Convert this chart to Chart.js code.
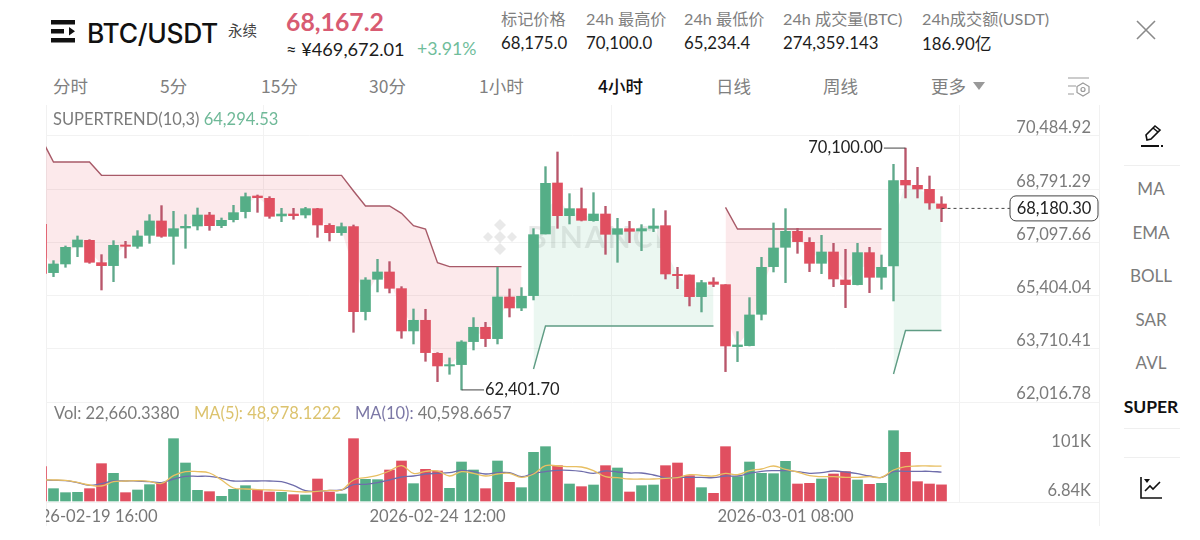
<!DOCTYPE html>
<html lang="zh">
<head>
<meta charset="utf-8">
<title>BTC/USDT</title>
<script src="https://cdn.jsdelivr.net/npm/chart.js@4/dist/chart.umd.js"></script>
<style>
html,body{margin:0;padding:0;background:#fff;}
body{width:1200px;height:540px;position:relative;overflow:hidden;font-family:Lato,"Noto Sans CJK SC",sans-serif;color:#7b7b7b;}
.t{position:absolute;white-space:nowrap;line-height:1;}
.cn{font-family:"Noto Sans CJK SC",sans-serif;}
.stat{font-size:16.2px;color:#7f7f7f;}
.val{font-size:16.8px;color:#1c1c1c;}
.tab{font-size:17.5px;color:#808080;top:77px;font-family:"Noto Sans CJK SC",sans-serif;}
.side{font-size:17px;color:#7b7b7b;left:1121px;width:60px;text-align:center;}
.sep{position:absolute;left:1124px;width:56px;height:1px;background:#efefef;}
.leg{font-size:16.5px;color:#7b7b7b;}
#wrap{position:absolute;left:46px;top:105px;width:1053px;height:421px;}
#edgeL,#edgeR{position:absolute;top:105px;height:421px;width:1px;background:#f1f1f1;}
#edgeL{left:46px;} #edgeR{left:1099px;}
</style>
</head>
<body>
<svg class="t" style="left:51px;top:19px" width="25" height="25" viewBox="0 0 25 25">
  <rect x="0" y="1" width="24" height="4.5" fill="#111"/><rect x="0" y="10" width="13" height="4.5" fill="#111"/>
  <rect x="0" y="19" width="24" height="4.5" fill="#111"/><path d="M18 8 L24 12.2 L18 16.5 Z" fill="#111"/>
</svg>
<div class="t" style="left:87px;top:17px;font:500 26.4px Inter,sans-serif;color:#111;letter-spacing:-.3px">BTC/USDT</div>
<div class="t cn" style="left:228px;top:23px;font-size:14.5px;color:#444">永续</div>
<div class="t" style="left:286px;top:7px;font:700 24.8px Lato,sans-serif;color:#d85b72">68,167.2</div>
<div class="t" style="left:286px;top:40px;font-size:18.2px;color:#1c1c1c">≈ ¥469,672.01</div>
<div class="t" style="left:417px;top:40px;font-size:17.7px;color:#70bd9b">+3.91%</div>

<div class="t stat cn" style="left:501px;top:10px">标记价格</div><div class="t val" style="left:501px;top:35px">68,175.0</div>
<div class="t stat" style="left:586px;top:10px">24h <span class="cn">最高价</span></div><div class="t val" style="left:586px;top:35px">70,100.0</div>
<div class="t stat" style="left:684px;top:10px">24h <span class="cn">最低价</span></div><div class="t val" style="left:684px;top:35px">65,234.4</div>
<div class="t stat" style="left:783px;top:10px">24h <span class="cn">成交量</span>(BTC)</div><div class="t val" style="left:783px;top:35px">274,359.143</div>
<div class="t stat" style="left:922px;top:10px">24h<span class="cn">成交额</span>(USDT)</div><div class="t val" style="left:922px;top:35px">186.90<span class="cn">亿</span></div>

<svg class="t" style="left:1135px;top:20px" width="22" height="20" viewBox="0 0 22 20"><path d="M2 1 L20 19 M20 1 L2 19" stroke="#8a8a8a" stroke-width="1.6" fill="none"/></svg>

<div class="t tab" style="left:53px">分时</div>
<div class="t tab" style="left:160px">5分</div>
<div class="t tab" style="left:261px">15分</div>
<div class="t tab" style="left:369px">30分</div>
<div class="t tab" style="left:479px">1小时</div>
<div class="t tab" style="left:598px;color:#111;font-weight:500">4小时</div>
<div class="t tab" style="left:716px">日线</div>
<div class="t tab" style="left:823px">周线</div>
<div class="t tab" style="left:931px">更多</div>
<svg class="t" style="left:973px;top:82px" width="12" height="8"><path d="M0 0 H12 L6 8 Z" fill="#999"/></svg>
<svg class="t" style="left:1067px;top:76px" width="24" height="22" viewBox="0 0 24 22" fill="none" stroke="#9a9a9a" stroke-width="1.2">
  <path d="M1 2 H22 M1 10 H9 M1 18 H7"/><path d="M16 7 L22 10.5 V16.5 L16 20 L10 16.5 V10.5 Z"/><circle cx="16" cy="13.5" r="2"/>
</svg>

<div id="edgeL"></div><div id="edgeR"></div>
<div id="wrap"><canvas id="myChart" width="1053" height="421" style="display:block"></canvas></div>

<div class="t leg" style="left:53px;top:111px">SUPERTREND(10,3) <span style="color:#6fb998">64,294.53</span></div>
<div class="t leg" style="left:54px;top:405px">Vol: 22,660.3380</div>
<div class="t leg" style="left:194px;top:405px;color:#dcc36e">MA(5): 48,978.1222</div>
<div class="t leg" style="left:355px;top:405px;color:#7c78a6">MA(10): <span style="color:#7b7b7b">40,598.6657</span></div>

<svg class="t" style="left:1139px;top:123px" width="26" height="26" viewBox="0 0 26 26" fill="none" stroke="#111" stroke-width="1.6">
  <path d="M8 17 L7 12 L16 3 L21 7 L12 16 Z"/><path d="M14 5 L19 9"/><path d="M2 23 H20 M22 23 H24" stroke-width="2"/>
</svg>
<div class="sep" style="top:165px"></div>
<div class="t side" style="top:180px">MA</div>
<div class="t side" style="top:224px">EMA</div>
<div class="t side" style="top:267px">BOLL</div>
<div class="t side" style="top:311px">SAR</div>
<div class="t side" style="top:354px">AVL</div>
<div class="t side" style="top:398px;color:#111;font-weight:700;font-size:17.5px">SUPER</div>
<div class="sep" style="top:428px"></div>
<div class="sep" style="top:457px"></div>
<svg class="t" style="left:1139px;top:476px" width="24" height="24" viewBox="0 0 24 24" fill="none" stroke="#111" stroke-width="1.6">
  <path d="M2 1 V22 H23"/><path d="M6 15 L11 10 L14 13 L21 6"/><path d="M5 3 H11 L8 7 Z" fill="#111" stroke="none"/>
</svg>

<script>
// price data, index 0 is the candle cut off at the left edge
var opens = [67673,
  66135, 66411, 66952, 67164, 66453, 66358, 67016, 66973, 67323, 67780,
  67291, 67557, 67620, 67970, 67631, 67822, 68077, 68575, 68501, 67939,
  68002, 67970, 68172, 67642, 67408, 67599, 64894, 65923, 66156, 65626,
  64278, 64618, 63567, 63164, 63207, 63939, 64395, 64034, 65360, 65010,
  65403, 67366, 68989, 67949, 68172, 67790, 68002, 67355, 67535, 67461,
  67546, 67631, 66082, 66061, 65371, 65838, 65753, 63780, 63811, 64809,
  66326, 66941, 67450, 67100, 66432, 66793, 65902, 65753, 66772, 65986,
  66347, 69074, 68915, 68787, 68321];
var highs = [67673,
  66517, 66984, 67302, 67185, 66708, 67153, 67132, 67472, 67981, 68268,
  68087, 67981, 68193, 68055, 67875, 68278, 68671, 68607, 68554, 68183,
  68183, 68214, 68183, 67695, 67716, 67652, 65976, 66559, 66485, 65689,
  64978, 64968, 63589, 63419, 63970, 64703, 64554, 66305, 65615, 65658,
  67535, 69509, 69976, 68649, 68830, 68681, 68246, 67864, 67769, 67663,
  68172, 68108, 66305, 66061, 65891, 65976, 65753, 64257, 65339, 66623,
  67716, 68172, 67546, 67249, 67323, 67069, 66878, 67069, 66941, 66697,
  69583, 70100, 69488, 69212, 68554];
var lows = [66114,
  66008, 66305, 66644, 66432, 65583, 65848, 66602, 66909, 67069, 67260,
  66400, 66909, 67493, 67482, 67567, 67748, 67875, 68055, 67864, 67758,
  67833, 67875, 67260, 67143, 67323, 64236, 64628, 65520, 65488, 64045,
  63864, 63313, 62665, 62899, 62401.7, 63673, 63780, 63864, 64724, 64925,
  65265, 67366, 67546, 67684, 67780, 67769, 66718, 66464, 67090, 66835,
  67440, 65933, 65626, 65074, 64883, 65689, 62984, 63302, 63801, 64628,
  66156, 65817, 66750, 66167, 66103, 65689, 65021, 65742, 65498, 65605,
  65233, 68512, 68512, 68151, 67758];
var closes = [66114,
  66411, 66941, 67175, 66464, 66358, 67005, 66973, 67302, 67780, 67291,
  67535, 67610, 67970, 67631, 67801, 68045, 68554, 68522, 67928, 68002,
  67949, 68172, 67652, 67408, 67599, 64894, 65902, 66156, 65636, 64278,
  64618, 63589, 63164, 63207, 63928, 64395, 64034, 65360, 65010, 65382,
  67344, 68978, 67949, 68172, 67801, 68002, 67355, 67535, 67450, 67535,
  67620, 66092, 66039, 65371, 65817, 65764, 63801, 63833, 64788, 66305,
  66920, 67450, 67122, 66432, 66793, 65933, 65753, 66772, 65986, 66305,
  69063, 68925, 68798, 68352, 68180.3];

// supertrend, red band above and green band below, gaps where the other one runs
var superRed = [70390, 69657, 69657, 69657, 69657,
  69233, 69233, 69233, 69233, 69233, 69233, 69233, 69233, 69233, 69233,
  69233, 69233, 69233, 69233, 69233, 69233, 69233, 69233, 69233, 69233, 69233,
  68734, 68257, 68257, 68257, 68024, 67631, 67525, 66453,
  66326, 66326, 66326, 66326, 66326, 66326, 66326,
  null, null, null, null, null, null, null, null, null, null, null, null, null, null, null, null,
  68214, 67525, 67525, 67525, 67525, 67525, 67525, 67525, 67525, 67525, 67525, 67525, 67525, 67525,
  null, null, null, null, null];
var superGreen = [null, null, null, null, null, null, null, null, null, null,
  null, null, null, null, null, null, null, null, null, null,
  null, null, null, null, null, null, null, null, null, null,
  null, null, null, null, null, null, null, null, null, null, null,
  63069, 64437, 64437, 64437, 64437, 64437, 64437, 64437, 64437, 64437, 64437, 64437, 64437, 64437, 64437, 64437,
  null, null, null, null, null, null, null, null, null, null, null, null, null, null,
  62909, 64294.53, 64294.53, 64294.53, 64294.53];

var volumes = [48200,
  17316, 11700, 12168, 17316, 52416, 38844, 11700, 15444, 22932, 26208,
  87516, 53352, 14976, 13104, 6552, 16380, 21528, 14976, 12636, 12168,
  8892, 8424, 30888, 12636, 9828, 87516, 30420, 29952, 43524, 56160,
  24336, 44460, 42120, 17784, 54756, 43524, 17316, 56160, 26208, 18720,
  68328, 76284, 49608, 23868, 20124, 22464, 49608, 46332, 12636, 21528,
  22464, 49608, 53352, 35568, 18720, 10764, 76284, 34164, 54756, 38844,
  38376, 55692, 23868, 24804, 30888, 37908, 41184, 29484, 23400, 24804,
  98748, 68328, 27144, 23868, 22660.338];
var ma5 = [29484,
  29484, 29016, 26208, 22464, 21060, 27144, 28080, 28548, 27612, 24804,
  35568, 41184, 41184, 39312, 29484, 18252, 16848, 15912, 15444, 14976,
  13572, 12636, 13572, 14976, 15444, 29484, 32760, 36036, 42120, 49608,
  38844, 41652, 42120, 35100, 41184, 38844, 35100, 37908, 38844, 33228,
  37908, 49608, 49140, 48204, 47736, 42588, 34164, 32760, 30888, 30888,
  30888, 31824, 32760, 36972, 36036, 35100, 38844, 36972, 42588, 44928,
  49140, 44460, 40716, 35568, 34164, 34164, 33228, 33228, 34164, 33228,
  43524, 48204, 49140, 49140, 48978.1222];
var ma10 = [29484,
  29016, 28548, 25740, 21996, 24336, 28080, 28080, 28080, 27144, 25740,
  30888, 34632, 34632, 34632, 31824, 28080, 28080, 28080, 28080, 27144,
  21996, 14508, 13572, 14976, 15444, 22932, 23400, 25740, 29484, 33696,
  35100, 37908, 38844, 39780, 43056, 41184, 37908, 39780, 39780, 34164,
  38844, 41184, 43056, 43056, 41652, 38844, 42120, 40716, 39312, 39312,
  36504, 32760, 33228, 33228, 33228, 32760, 35100, 35100, 38844, 41652,
  42588, 42588, 41184, 38844, 39780, 42120, 40716, 38376, 35100, 33228,
  41184, 41652, 41652, 41652, 40598.6657];

var priceTicks = [70484.92, 68791.29, 67097.66, 65404.04, 63710.41, 62016.78];
var timeTicks = [4, 33, 62];
var timeLabels = ['2026-02-19 16:00', '2026-02-24 12:00', '2026-03-01 08:00'];
var highIndex = 72, lowIndex = 35, lastIndex = 75;
var highPrice = 70100, lowPrice = 62401.7, lastPrice = 68180.3;

var GREEN = '#55ae87', RED = '#e04f60';
var GREEN_WICK = '#5fa98b', RED_WICK = '#b9566b';

function pts(values) {
  return values.map(function (v, i) { return {x: i, y: v}; });
}
function candleColor(i, up, down) {
  return closes[i] >= opens[i] ? up : down;
}
function money(v) {
  return v.toLocaleString('en-US', {minimumFractionDigits: 2, maximumFractionDigits: 2});
}
// labels sit inside the plot, the axes take no room
function flatAxis(s) {
  s.width = 0;
  s.paddingTop = 0;
  s.paddingBottom = 0;
}

var wicks = lows.map(function (l, i) { return {x: i, y: [l, highs[i]]}; });
var bodies = opens.map(function (o, i) { return {x: i, y: [o, closes[i]]}; });
var bodyMid = opens.map(function (o, i) { return (o + closes[i]) / 2; }); // the band fills reach to the body middle

// watermark under the candles, labels for high/low/last on top
var overlay = {
  id: 'overlay',
  beforeDatasetsDraw: function (chart) {
    var c = chart.ctx, cx = 454, cy = 132;
    c.save();
    c.fillStyle = 'rgba(125,125,125,0.17)';
    [[0, 0, 6], [0, -12, 6], [0, 12, 6], [-12, 0, 5], [12, 0, 5]].forEach(function (d) {
      c.beginPath();
      c.moveTo(cx + d[0], cy + d[1] - d[2]);
      c.lineTo(cx + d[0] + d[2], cy + d[1]);
      c.lineTo(cx + d[0], cy + d[1] + d[2]);
      c.lineTo(cx + d[0] - d[2], cy + d[1]);
      c.closePath();
      c.fill();
    });
    c.font = '700 30px Lato, sans-serif';
    c.letterSpacing = '2px';
    c.textBaseline = 'middle';
    c.fillText('BINANCE', 481, cy + 1);
    c.restore();
  },
  afterDatasetsDraw: function (chart) {
    var c = chart.ctx, xs = chart.scales.x, ys = chart.scales.y;
    c.save();
    c.font = '16.5px Lato, sans-serif';
    c.fillStyle = '#222';
    c.textBaseline = 'middle';
    c.textAlign = 'right';
    c.fillText(money(highPrice), xs.getPixelForValue(70.2) - 1, ys.getPixelForValue(highPrice));
    c.textAlign = 'left';
    c.fillText(money(lowPrice), xs.getPixelForValue(36.875) + 1, ys.getPixelForValue(lowPrice));
    // box around the last price
    var y = ys.getPixelForValue(lastPrice);
    c.beginPath();
    c.roundRect(964, y - 12.5, 88, 25, 6);
    c.fillStyle = '#fff';
    c.fill();
    c.strokeStyle = '#444';
    c.lineWidth = 1;
    c.stroke();
    c.fillStyle = '#222';
    c.textAlign = 'center';
    c.fillText(money(lastPrice), 1008, y + 0.5);
    c.restore();
  }
};

var ctx = document.getElementById('myChart').getContext('2d');
var myChart = new Chart(ctx, {
  type: 'bar',
  data: {
    datasets: [
      {type: 'line', data: pts(bodyMid), borderWidth: 0, pointRadius: 0, fill: false, order: 9},
      {type: 'line', data: pts(superRed), borderColor: '#a85a68', borderWidth: 1.4, pointRadius: 0, order: 7,
        fill: {target: 0, above: 'rgba(230,70,90,0.12)', below: 'rgba(230,70,90,0.12)'}},
      {type: 'line', data: pts(superGreen), borderColor: '#5f9c84', borderWidth: 1.4, pointRadius: 0, order: 7,
        fill: {target: 0, above: 'rgba(60,175,120,0.10)', below: 'rgba(60,175,120,0.10)'}},
      {data: wicks, grouped: false, barThickness: 1.7, order: 5,
        backgroundColor: wicks.map(function (d, i) { return candleColor(i, GREEN_WICK, RED_WICK); })},
      {data: bodies, grouped: false, barThickness: 10, order: 4,
        backgroundColor: bodies.map(function (d, i) { return candleColor(i, GREEN, RED); })},
      {data: pts(volumes), yAxisID: 'yVol', grouped: false, barThickness: 10, order: 6,
        backgroundColor: volumes.map(function (d, i) { return candleColor(i, GREEN, RED); })},
      {type: 'line', data: pts(ma10), yAxisID: 'yVol', borderColor: '#6f6dab', borderWidth: 1.3, pointRadius: 0, tension: 0.4, order: 2},
      {type: 'line', data: pts(ma5), yAxisID: 'yVol', borderColor: '#e8bf62', borderWidth: 1.3, pointRadius: 0, tension: 0.4, order: 1},
      {type: 'line', data: [{x: highIndex, y: highPrice}, {x: 70.2, y: highPrice}], borderColor: '#444', borderWidth: 1, pointRadius: 0, order: 1},
      {type: 'line', data: [{x: lowIndex, y: lowPrice}, {x: 36.875, y: lowPrice}], borderColor: '#444', borderWidth: 1, pointRadius: 0, order: 1},
      {type: 'line', data: [{x: lastIndex, y: lastPrice}, {x: 80.7, y: lastPrice}], borderColor: '#444', borderWidth: 1, borderDash: [3, 3], pointRadius: 0, order: 1}
    ]
  },
  options: {
    responsive: false,
    animation: false,
    layout: {padding: 0},
    plugins: {legend: {display: false}, tooltip: {enabled: false}},
    scales: {
      x: {
        type: 'linear',
        offset: false,
        min: 0.375,
        max: 88.125,
        afterBuildTicks: function (s) { s.ticks = timeTicks.map(function (v) { return {value: v}; }); },
        afterFit: function (s) { s.height = 24; s.paddingLeft = 0; s.paddingRight = 0; },
        grid: {color: '#f2f2f2', drawTicks: false},
        border: {display: true, color: '#f2f2f2'},
        ticks: {
          autoSkip: false, maxRotation: 0, padding: 5, color: '#777', font: {family: 'Lato', size: 16.6},
          callback: function (v) { return timeLabels[timeTicks.indexOf(v)]; }
        }
      },
      y: {
        type: 'linear',
        position: 'right',
        min: 58833.3,
        max: 71471.8,
        afterBuildTicks: function (s) { s.ticks = priceTicks.map(function (v) { return {value: v}; }); },
        afterFit: flatAxis,
        grid: {color: '#f2f2f2', drawTicks: false},
        border: {display: false},
        ticks: {mirror: true, padding: -8, labelOffset: -8, autoSkip: false, color: '#7b7b7b', font: {family: 'Lato', size: 16.5}, callback: money}
      },
      yVol: {
        type: 'linear',
        position: 'right',
        min: -1404,
        max: 555984,
        afterBuildTicks: function (s) { s.ticks = [{value: 101000}]; },
        afterFit: flatAxis,
        grid: {display: false},
        border: {display: false},
        ticks: {mirror: true, padding: -8, labelOffset: 13, color: '#7b7b7b', font: {family: 'Lato', size: 16.5}, callback: function () { return '101K'; }}
      },
      yVolLow: {
        type: 'linear',
        position: 'right',
        min: -1404,
        max: 555984,
        afterBuildTicks: function (s) { s.ticks = [{value: 6840}]; },
        afterFit: flatAxis,
        grid: {display: false},
        border: {display: false},
        ticks: {mirror: true, padding: -8, labelOffset: -5, color: '#7b7b7b', font: {family: 'Lato', size: 16.5}, callback: function () { return '6.84K'; }}
      }
    }
  },
  plugins: [overlay]
});
</script>
</body>
</html>
